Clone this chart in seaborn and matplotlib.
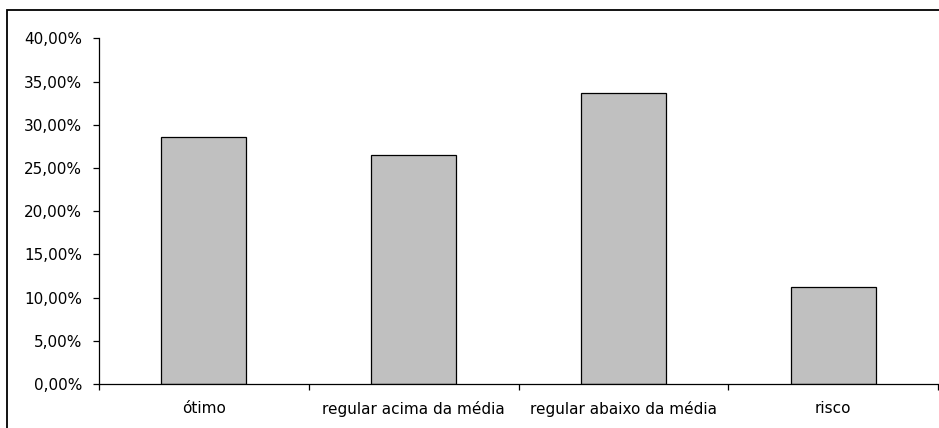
import seaborn as sns
import matplotlib.pyplot as plt
import matplotlib.patches as mpatches
import pandas as pd
import numpy as np

categorias = ['ótimo', 'regular acima da média', 'regular abaixo da média', 'risco']
percentuais = [28.57, 26.53, 33.67, 11.22]
yticks = [0, 5, 10, 15, 20, 25, 30, 35, 40]

sns.set_style('white')
plt.rcParams['font.family'] = ['DejaVu Sans']
plt.rcParams['text.color'] = 'black'
plt.rcParams['xtick.labelcolor'] = 'black'
plt.rcParams['ytick.labelcolor'] = 'black'

df = pd.DataFrame({'categoria': categorias, 'pct': percentuais})

fig = plt.figure(figsize=(9.39, 4.28), dpi=100)
ax = fig.add_axes([99/939, 44/428, 839/939, (384-38.3)/428])

sns.barplot(data=df, x='categoria', y='pct', color='#C0C0C0', edgecolor='black',
            linewidth=0.9, width=0.405, saturation=1, ax=ax)

ax.set_xlim(-0.5, 3.5)
ax.set_ylim(0, 40)
ax.set_yticks(yticks)
ax.set_yticklabels([f'{v:.2f}%'.replace('.', ',') for v in yticks], fontsize=11, color='black')
ax.set_xticks(range(len(categorias)))
ax.set_xticklabels(categorias, fontsize=11, color='black')
ax.set_xticks(np.arange(-0.5, 4, 1), minor=True)
ax.tick_params(axis='x', which='major', length=0, pad=12)
ax.tick_params(axis='x', which='minor', length=4, width=0.9, direction='out', color='black', bottom=True)
ax.tick_params(axis='y', length=4, width=0.9, direction='out', color='black', left=True, pad=8)
ax.set_xlabel('')
ax.set_ylabel('')
for s in ['top', 'right']:
    ax.spines[s].set_visible(False)
for s in ['left', 'bottom']:
    ax.spines[s].set_color('black')
    ax.spines[s].set_linewidth(0.9)

# moldura externa do grafico
fig.patches.append(mpatches.Rectangle((7/939, -0.05), 1.0, 1 - 10.5/428 + 0.05,
                                      transform=fig.transFigure, fill=False,
                                      edgecolor='black', linewidth=1.3))

fig.savefig('out.png', dpi=100)
